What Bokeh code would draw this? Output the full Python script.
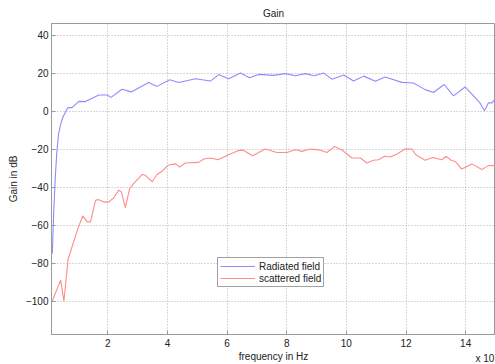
from bokeh.plotting import figure
from bokeh.models import Range1d, Label, FixedTicker
from bokeh.embed import file_html
from bokeh.resources import INLINE

# frequency (x 10^9 Hz) and gain (dB)
freq_radiated = [0.14, 0.19, 0.24, 0.29, 0.35, 0.42, 0.50, 0.60, 0.66, 0.80, 1.03, 1.25, 1.70, 1.98,
                 2.11, 2.48, 2.79, 3.37, 3.65, 4.08, 4.38, 4.94, 5.44, 5.72, 6.05, 6.45, 6.75, 7.06,
                 7.56, 7.95, 8.29, 8.62, 8.93, 9.24, 9.52, 9.91, 10.24, 10.58, 10.97, 11.30, 11.86,
                 12.25, 12.64, 12.92, 13.28, 13.59, 13.98, 14.32, 14.49, 14.63, 14.76, 14.88, 15.0]
gain_radiated = [-75, -52, -35, -22, -12, -7, -3, 0, 1.8, 1.8, 5.1, 5.0, 8.5, 8.5,
                 7.2, 11.5, 10.1, 15.0, 13.0, 16.5, 15.0, 17.0, 15.8, 19.2, 17.0, 20.0, 17.6, 19.3,
                 18.8, 19.7, 18.6, 19.7, 18.6, 20.0, 16.7, 19.0, 15.8, 18.4, 15.7, 17.9, 15.1,
                 14.8, 11.3, 9.8, 14.0, 8.0, 12.7, 7.1, 4.0, 0.2, 4.3, 4.3, 6.6]

freq_scattered = [0.14, 0.42, 0.53, 0.67, 0.81, 1.03, 1.16, 1.31, 1.42, 1.59, 1.68, 1.87, 2.03,
                  2.20, 2.37, 2.46, 2.59, 2.73, 2.87, 3.15, 3.26, 3.49, 3.65, 3.82, 4.02, 4.27,
                  4.41, 4.60, 5.05, 5.22, 5.44, 5.70, 6.05, 6.39, 6.56, 6.86, 7.28, 7.67, 8.01,
                  8.29, 8.51, 8.79, 9.07, 9.35, 9.60, 9.85, 10.19, 10.47, 10.69, 10.91, 11.08,
                  11.28, 11.47, 11.70, 11.97, 12.20, 12.33, 12.64, 12.89, 13.20, 13.35, 13.51,
                  13.65, 13.87, 14.21, 14.54, 14.76, 15.0]
gain_scattered = [-100, -89, -100, -78, -71, -60.4, -55.2, -58.3, -58.3, -47, -46.5, -47.9, -47.9,
                  -45.6, -41.6, -42.6, -50.8, -40.9, -38.1, -33.4, -33.8, -37.2, -33.4, -31.7, -28.5,
                  -27.8, -29.4, -27.3, -27.0, -25.2, -24.7, -25.6, -23.0, -20.7, -20.7, -23.5, -20.0,
                  -21.8, -21.8, -20.4, -21.2, -20.0, -20.4, -21.8, -18.6, -20.5, -24.7, -24.7, -27.3,
                  -25.9, -25.6, -23.8, -24.2, -22.6, -20.0, -20.0, -23.0, -25.9, -24.4, -25.6, -23.8,
                  -25.9, -26.5, -30.5, -27.8, -30.8, -28.7, -28.6]

x_ticks = [2, 4, 6, 8, 10, 12, 14]
y_ticks = [-100, -80, -60, -40, -20, 0, 20, 40]

FONT = "Liberation Sans"

p = figure(width=495, height=364, output_backend="svg", toolbar_location=None,
           x_range=Range1d(0.113, 15.0), y_range=Range1d(-117.6, 46.1),
           min_border_left=51, min_border_right=0, min_border_top=23, min_border_bottom=28)
p.background_fill_color = "white"
p.border_fill_color = "white"
p.outline_line_color = "#9a9a9a"

p.line(freq_radiated, gain_radiated, line_color="#8c8cff", line_width=1.1, legend_label="Radiated field")
p.line(freq_scattered, gain_scattered, line_color="#ff8c8c", line_width=1.1, legend_label="scattered field")

for ax in (p.xaxis[0], p.yaxis[0]):
    ax.axis_line_color = "#9a9a9a"
    ax.major_tick_line_color = "#9a9a9a"
    ax.major_tick_in = 4
    ax.major_tick_out = 0
    ax.minor_tick_line_color = None
    ax.major_label_text_font = FONT
    ax.major_label_text_font_size = "10px"
    ax.major_label_text_color = "#222222"
    ax.axis_label_text_font = FONT
    ax.axis_label_text_font_size = "10px"
    ax.axis_label_text_font_style = "normal"
    ax.axis_label_text_color = "#222222"

p.xaxis.ticker = FixedTicker(ticks=x_ticks)
p.yaxis.ticker = FixedTicker(ticks=y_ticks)
p.xaxis.axis_label = "frequency in Hz"
p.yaxis.axis_label = "Gain in dB"
p.xaxis.major_label_standoff = 4
p.xaxis.axis_label_standoff = 1
p.yaxis.major_label_standoff = 3
p.yaxis.axis_label_standoff = 4

for g in (p.xgrid[0], p.ygrid[0]):
    g.grid_line_color = "#b0b0b0"
    g.grid_line_dash = "1 2"
    g.grid_line_width = 1
p.xgrid.ticker = FixedTicker(ticks=x_ticks)
p.ygrid.ticker = FixedTicker(ticks=y_ticks)

lg = p.legend[0]
lg.location = (166, 47)
lg.margin = 0
lg.padding = 2
lg.spacing = 0
lg.glyph_width = 35
lg.glyph_height = 12
lg.label_height = 12
lg.label_standoff = 4
lg.label_text_font = FONT
lg.label_text_font_size = "10px"
lg.label_text_color = "#222222"
lg.border_line_color = "#444444"
lg.border_line_width = 1
lg.background_fill_color = "white"
lg.background_fill_alpha = 1

# title and exponent note as canvas-positioned labels in the top panel (not clipped)
p.add_layout(Label(x=273, y=13, x_units="canvas", y_units="canvas", text="Gain",
                   text_font=FONT, text_font_size="10px", text_align="center",
                   text_color="#222222", text_baseline="middle"), "above")
p.add_layout(Label(x=475, y=358, x_units="canvas", y_units="canvas", text="x 10",
                   text_font=FONT, text_font_size="10px",
                   text_color="#222222", text_baseline="middle"), "above")

open("out.html", "w").write(file_html(p, INLINE))
